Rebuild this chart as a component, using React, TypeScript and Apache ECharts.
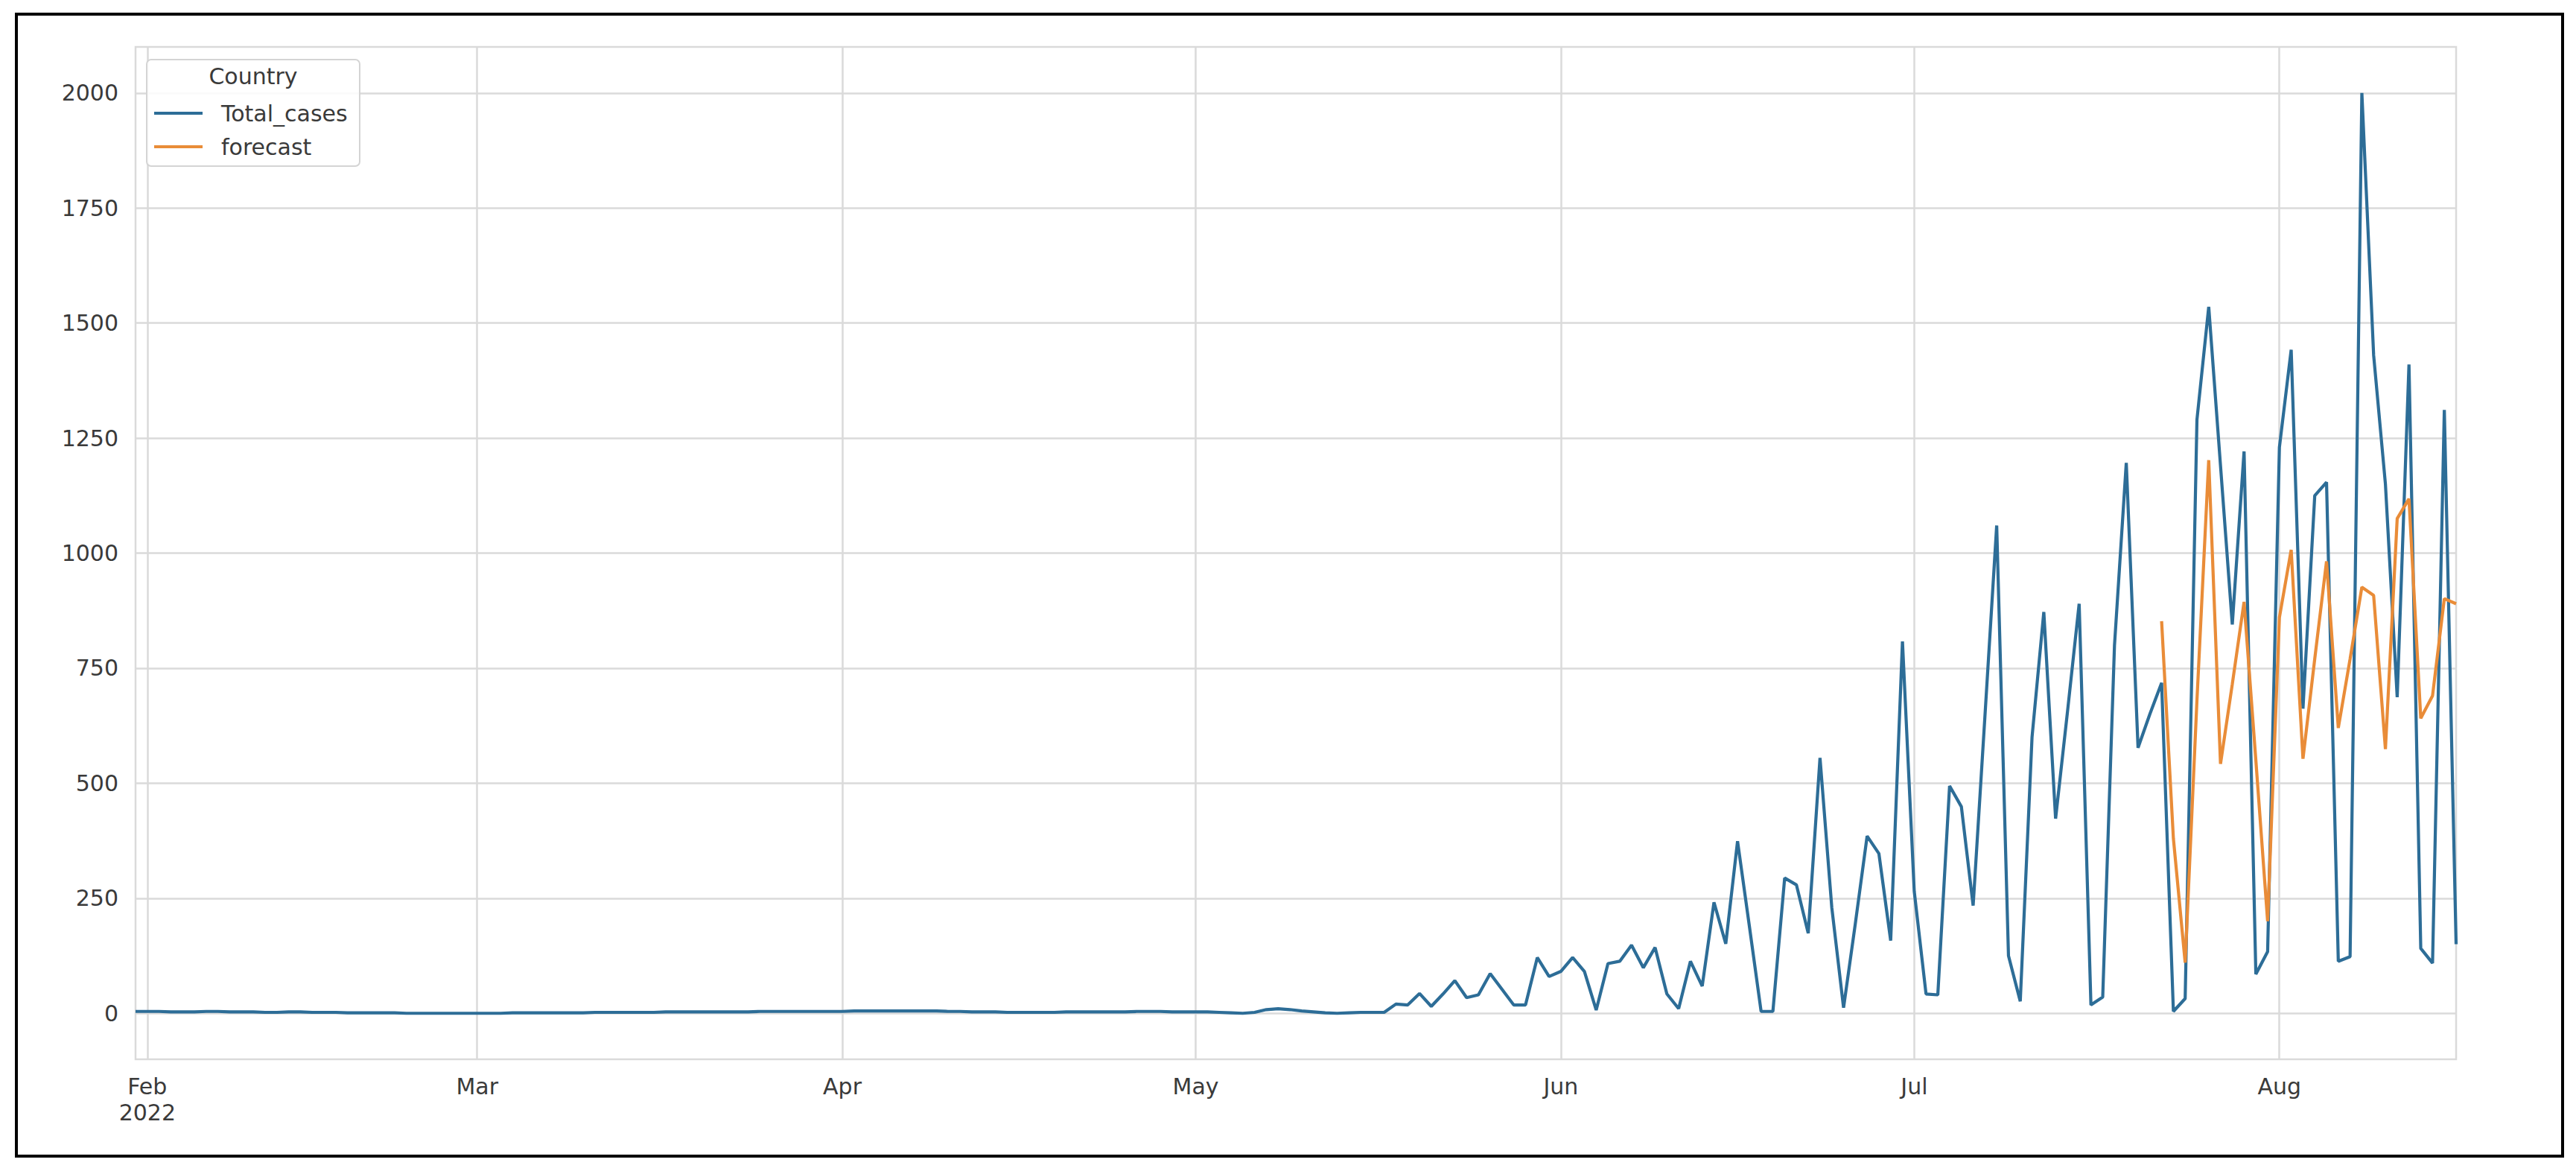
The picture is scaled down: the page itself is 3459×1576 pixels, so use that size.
import React, { useEffect, useRef } from "react";
import * as echarts from "echarts";

// ---- data ----
const START_DATE = "2022-01-31"; // first daily observation
const END_DATE = "2022-08-16";
const FORECAST_START = "2022-07-22";

const totalCasesEarly = [
  // Jan 31 - Feb 20
  4, 4, 4, 3, 3, 3, 4, 4, 3, 3, 3, 2, 2, 3, 3, 2, 2, 2, 1, 1, 1,
  // Feb 21 - Mar 13
  1, 1, 0, 0, 0, 0, 0, 0, 0, 0, 0, 1, 1, 1, 1, 1, 1, 1, 2, 2, 2,
  // Mar 14 - Apr 30
  2, 2, 2, 3, 3, 3, 3,
  3, 3, 3, 3, 4, 4, 4,
  4, 4, 4, 4, 4, 5, 5,
  5, 5, 5, 5, 5, 5, 4,
  4, 3, 3, 3, 2, 2, 2,
  2, 2, 3, 3, 3, 3, 3,
  3, 4, 4, 4, 3, 3,
  // May 1 - May 16
  3, 3, 2, 1, 0, 2, 8, 10, 8, 5, 3, 1, 0, 1, 2, 2,
];

const totalCasesLate = [
  // May 17 - May 31
  2, 20, 18, 43, 15, 42, 71, 34, 40, 86, 52, 18, 18, 121, 80,
  // Jun 1 - Jun 30
  91, 121, 91, 7, 108, 113, 148, 99, 143, 42, 10, 113, 59, 241, 151,
  374, 190, 4, 4, 294, 279, 174, 555, 230, 12, 195, 385, 347, 158, 808,
  // Jul 1 - Jul 31
  265, 42, 40, 494, 449, 234, 645, 1060, 125, 26, 600, 872, 423, 653, 890,
  18, 35, 800, 1196, 577, 650, 718, 4, 32, 1290, 1535, 1190, 845, 1221, 85, 134,
  // Aug 1 - Aug 16
  1230, 1442, 662, 1125, 1154, 113, 123, 2000, 1430, 1150, 687, 1410, 141, 109, 1311, 150,
];

const forecastValues = [
  852, 380, 110, 680, 1202, 542, 715, 894, 550, 200,
  860, 1007, 553, 770, 982, 620, 770, 926, 908, 574,
  1075, 1118, 641, 690, 901, 890,
];

const xTickDates = ["2022-02-01", "2022-03-01", "2022-04-01", "2022-05-01", "2022-06-01", "2022-07-01", "2022-08-01"];
const xTickLabels = ["Feb\n2022", "Mar", "Apr", "May", "Jun", "Jul", "Aug"];
const yTicks = [0, 250, 500, 750, 1000, 1250, 1500, 1750, 2000];
const legendTitle = "Country";
const seriesNames = ["Total_cases", "forecast"];

const DAY = 86400000;
const utc = (s: string) => Date.parse(s + "T00:00:00Z");

export default function App() {
  const ref = useRef<HTMLDivElement>(null);

  useEffect(() => {
    if (!ref.current) return;
    const chart = echarts.init(ref.current, undefined, { renderer: "svg" });

    const totalCases = totalCasesEarly.concat(totalCasesLate);
    const t0 = utc(START_DATE);
    const totalData = totalCases.map((v, i) => [t0 + i * DAY, v]);
    const f0 = utc(FORECAST_START);
    const forecastData = forecastValues.map((v, i) => [f0 + i * DAY, v]);
    const xTickVals = xTickDates.map(utc);

    const font = "DejaVu Sans";
    const textColor = "#3a3a3a";
    const gridColor = "#dadada";
    const blue = "#2d6d97";
    const orange = "#e98c38";

    chart.setOption({
      animation: false,
      backgroundColor: "#ffffff",
      grid: {
        left: 182,
        top: 63,
        width: 3116,
        height: 1359,
        show: true,
        borderColor: gridColor,
        borderWidth: 2.5,
        backgroundColor: "#ffffff",
        containLabel: false,
        outerBoundsMode: "none",
      },
      xAxis: {
        type: "value",
        min: t0,
        max: utc(END_DATE),
        scale: true,
        axisLine: { show: false },
        axisTick: { show: false, customValues: xTickVals },
        splitLine: { show: true, lineStyle: { color: gridColor, width: 2.5 } },
        axisLabel: {
          customValues: xTickVals,
          margin: 19,
          fontFamily: font,
          fontSize: 30,
          lineHeight: 35,
          color: textColor,
          hideOverlap: false,
          formatter: (v: number) => {
            let best = -1;
            let bd = Infinity;
            xTickVals.forEach((t, i) => {
              const d = Math.abs(t - v);
              if (d < bd) { bd = d; best = i; }
            });
            return bd < DAY ? xTickLabels[best] : "";
          },
        },
      },
      yAxis: {
        type: "value",
        min: -100,
        max: 2100,
        axisLine: { show: false },
        axisTick: { show: false, customValues: yTicks },
        splitLine: { show: true, lineStyle: { color: gridColor, width: 2.5 } },
        axisLabel: {
          customValues: yTicks,
          margin: 23,
          fontFamily: font,
          fontSize: 30,
          color: textColor,
          formatter: (v: number) => String(v),
        },
      },
      legend: {
        show: true,
        orient: "vertical",
        left: 207,
        top: 137,
        padding: 0,
        itemGap: 15,
        itemWidth: 65,
        itemHeight: 4,
        icon: "rect",
        data: seriesNames,
        textStyle: {
          fontFamily: font,
          fontSize: 30,
          lineHeight: 30,
          color: textColor,
          padding: [0, 0, 0, 20],
        },
        z: 6,
      },
      graphic: [
        {
          type: "rect",
          z: 3,
          shape: { x: 197, y: 80, width: 286, height: 143, r: 6 },
          style: { fill: "rgba(255,255,255,0.85)", stroke: "#d4d4d4", lineWidth: 2 },
        },
        {
          type: "text",
          z: 6,
          x: 340,
          y: 102,
          style: {
            text: legendTitle,
            fontFamily: font,
            fontSize: 30,
            fill: textColor,
            textAlign: "center",
            textVerticalAlign: "middle",
            verticalAlign: "middle",
          },
        },
        {
          type: "rect",
          z: 10,
          shape: { x: 22, y: 19, width: 3419, height: 1533 },
          style: { fill: "none", stroke: "#000000", lineWidth: 4 },
        },
      ],
      series: [
        {
          name: seriesNames[0],
          type: "line",
          data: totalData,
          showSymbol: false,
          symbol: "none",
          itemStyle: { color: blue },
          lineStyle: { color: blue, width: 4.2 },
          z: 2,
        },
        {
          name: seriesNames[1],
          type: "line",
          data: forecastData,
          showSymbol: false,
          symbol: "none",
          itemStyle: { color: orange },
          lineStyle: { color: orange, width: 4.2 },
          z: 3,
        },
      ],
    });

    return () => chart.dispose();
  }, []);

  return (
    <div
      ref={ref}
      style={{ position: "fixed", left: 0, top: 0, width: 3459, height: 1576, background: "#fff" }}
    />
  );
}
